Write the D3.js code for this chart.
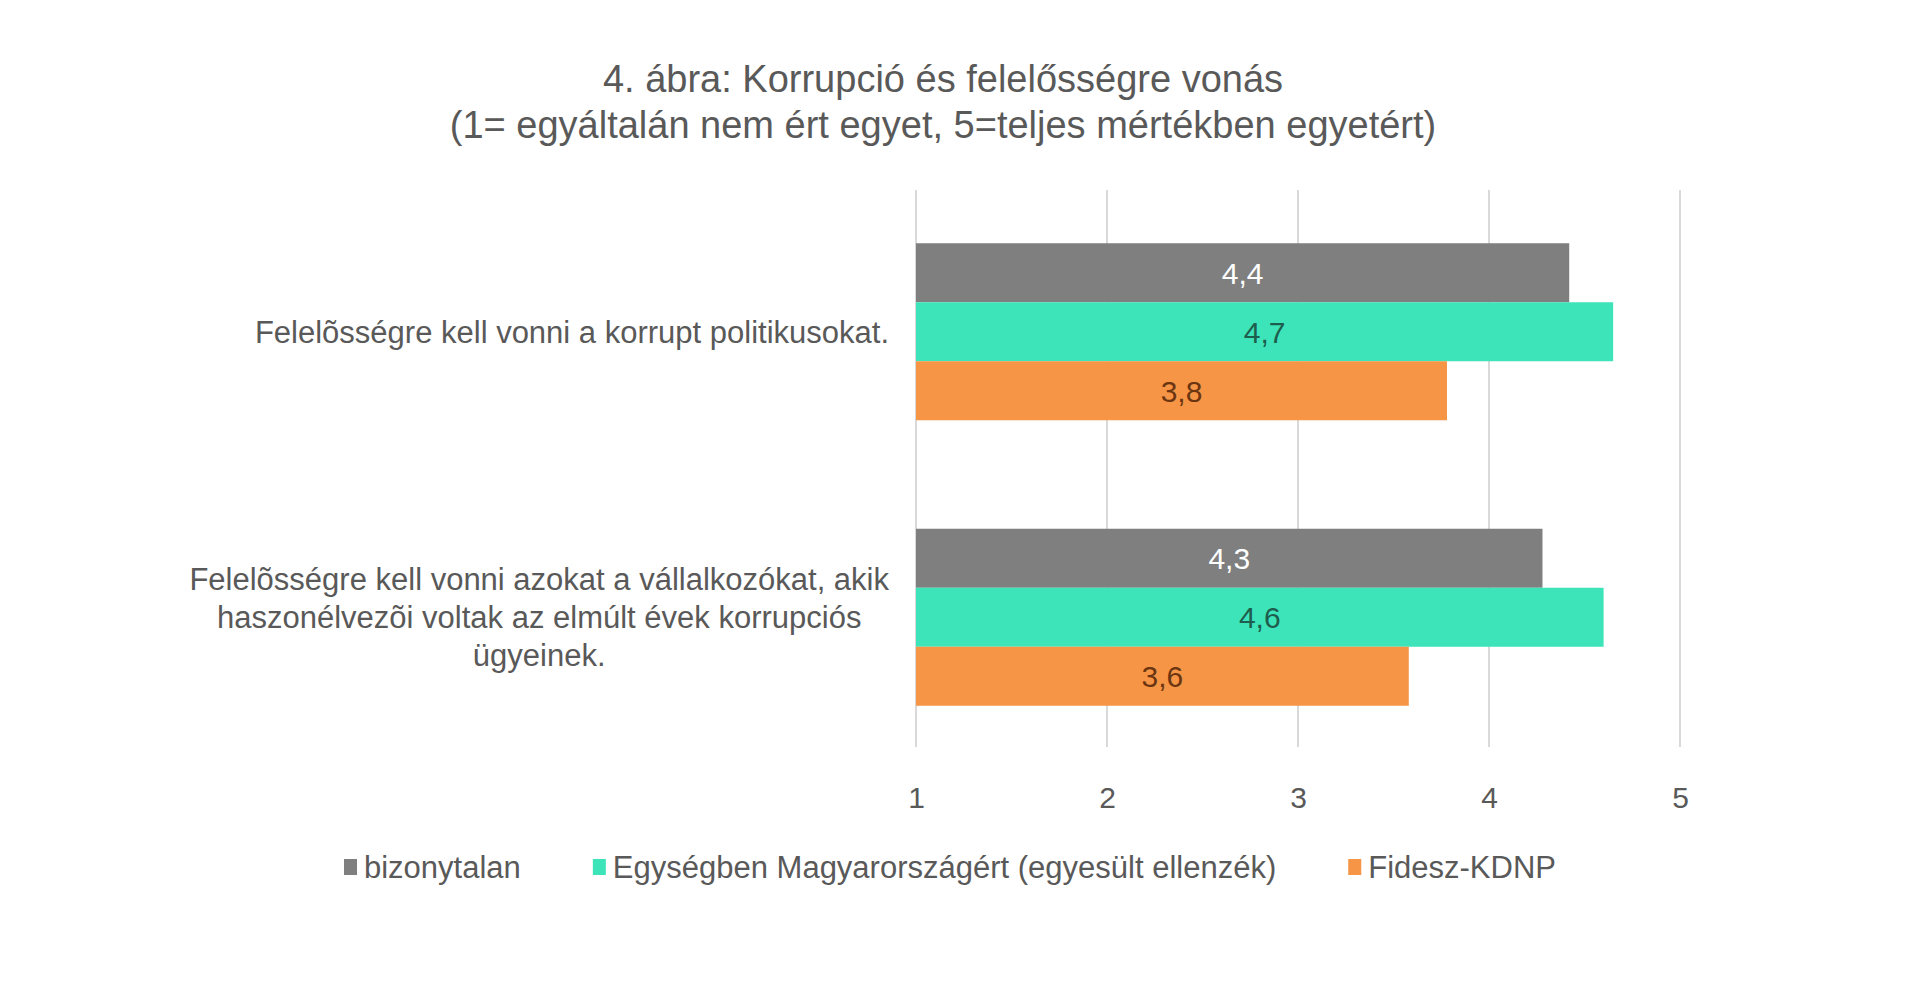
<!DOCTYPE html>
<html><head><meta charset="utf-8">
<script src="https://cdn.jsdelivr.net/npm/d3@7"></script>
<style>html,body{margin:0;padding:0;background:#fff;}svg{display:block;}</style>
</head><body>
<svg id="chart" width="1920" height="989"></svg>
<script>
const titleLines = ["4. ábra: Korrupció és felelősségre vonás", "(1= egyáltalán nem ért egyet, 5=teljes mértékben egyetért)"];
const categories = ["Felelõsségre kell vonni a korrupt politikusokat.", "Felelõsségre kell vonni azokat a vállalkozókat, akik haszonélvezõi voltak az elmúlt évek korrupciós ügyeinek."];
const categoryLines = [["Felelõsségre kell vonni a korrupt politikusokat."], ["Felelõsségre kell vonni azokat a vállalkozókat, akik", "haszonélvezõi voltak az elmúlt évek korrupciós", "ügyeinek."]];
const seriesNames = ["bizonytalan", "Egységben Magyarországért (egyesült ellenzék)", "Fidesz-KDNP"];
const bizonytalan = [4.42, 4.28];
const ellenzek = [4.65, 4.6];
const fidesz = [3.78, 3.58];
const valueLabels = [["4,4", "4,3"], ["4,7", "4,6"], ["3,8", "3,6"]];
const xTicks = [1, 2, 3, 4, 5];

const colors = ["#7f7f7f", "#3ee4b9", "#f69546"];
const labelColors = ["#ffffff", "#1d5e4e", "#6b3512"];
const series = [bizonytalan, ellenzek, fidesz];
const font = "'Liberation Sans', Arial, sans-serif";
const textCol = "#595959";

const svg = d3.select("#chart");
const x = d3.scaleLinear().domain([1, 5]).range([916, 1680]);
const y = d3.scaleBand().domain(categories).range([189, 760]).paddingInner(0.38).paddingOuter(0.19);
const ys = d3.scaleBand().domain(seriesNames).range([0, y.bandwidth()]).padding(0);

// title
svg.append("g").selectAll("text").data(titleLines).join("text")
  .attr("x", 943).attr("y", (d, i) => 92 + i * 46)
  .attr("text-anchor", "middle").attr("font-family", font).attr("font-size", 38)
  .attr("fill", textCol).text(d => d);

// gridlines
svg.append("g").selectAll("line").data(xTicks).join("line")
  .attr("x1", d => x(d)).attr("x2", d => x(d)).attr("y1", 190).attr("y2", 747)
  .attr("stroke", "#d9d9d9").attr("stroke-width", 2);

// axis labels
const ax = svg.append("g").attr("transform", "translate(0,787)")
  .call(d3.axisBottom(x).tickValues(xTicks).tickSize(0).tickPadding(0).tickFormat(d3.format("d")));
ax.select(".domain").remove();
ax.selectAll("text").attr("font-family", font).attr("font-size", 30).attr("fill", textCol).attr("dy", "0.71em");

// bars
series.forEach((vals, si) => {
  const g = svg.append("g");
  g.selectAll("rect").data(vals).join("rect")
    .attr("x", x(1)).attr("y", (d, i) => y(categories[i]) + ys(seriesNames[si]))
    .attr("width", d => x(d) - x(1)).attr("height", ys.bandwidth())
    .attr("fill", colors[si]);
  g.selectAll("text").data(vals).join("text")
    .attr("x", d => (x(d) + x(1)) / 2)
    .attr("y", (d, i) => y(categories[i]) + ys(seriesNames[si]) + ys.bandwidth() / 2)
    .attr("dy", "0.36em").attr("text-anchor", "middle")
    .attr("font-family", font).attr("font-size", 30).attr("fill", labelColors[si])
    .text((d, i) => valueLabels[si][i]);
});

// category labels: block right-aligned, lines centered within block
categories.forEach((c, ci) => {
  const lines = categoryLines[ci];
  const g = svg.append("g");
  const t = g.selectAll("text").data(lines).join("text")
    .attr("font-family", font).attr("font-size", 31).attr("fill", textCol).text(d => d);
  let maxW = 0;
  t.each(function () { maxW = Math.max(maxW, this.getComputedTextLength()); });
  const right = 889, cx = right - maxW / 2, lh = 38;
  const cy = y(c) + y.bandwidth() / 2;
  t.attr("x", cx).attr("text-anchor", "middle")
    .attr("y", (d, i) => cy + (i - (lines.length - 1) / 2) * lh).attr("dy", "0.36em");
});

// legend
const lg = svg.append("g");
const items = lg.selectAll("g").data(seriesNames).join("g");
items.append("rect").attr("width", 13).attr("height", 16).attr("y", -8).attr("fill", (d, i) => colors[i]);
items.append("text").attr("x", 20).attr("dy", "0.36em").attr("font-family", font).attr("font-size", 31)
  .attr("fill", textCol).text(d => d);
let cur = 0; const pos = [];
items.each(function (d, i) {
  pos.push(cur);
  cur += 20 + this.querySelector("text").getComputedTextLength() + 72;
});
const total = cur - 72;
const lx = 950 - total / 2;
items.attr("transform", (d, i) => `translate(${lx + pos[i]},867)`);
</script>
</body></html>
